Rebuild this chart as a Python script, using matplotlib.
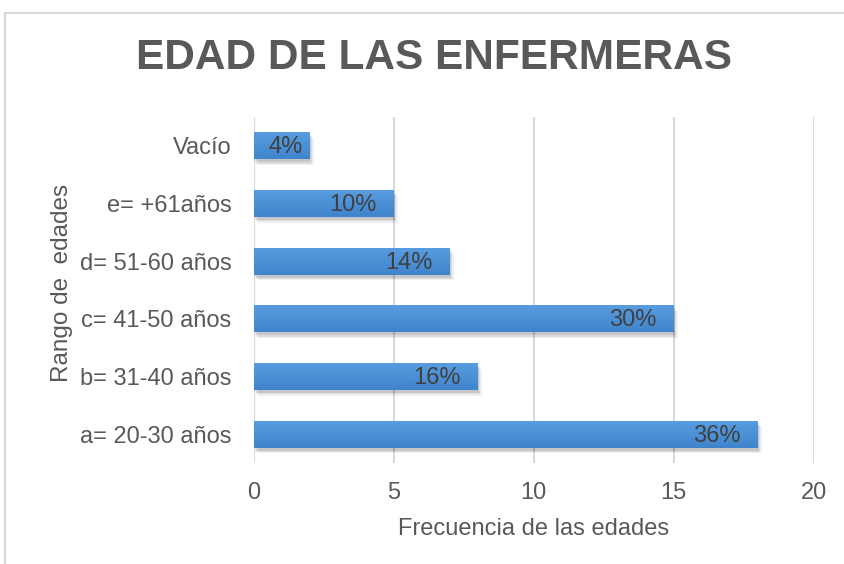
import numpy as np
import matplotlib.pyplot as plt
from matplotlib.patches import Rectangle
from matplotlib.colors import LinearSegmentedColormap
import matplotlib.transforms as mtransforms

plt.rcParams['font.family'] = ['Liberation Sans', 'DejaVu Sans']

# data
categorias = ["a= 20-30 años", "b= 31-40 años", "c= 41-50 años",
              "d= 51-60 años", "e= +61años", "Vacío"]
frecuencias = [18, 8, 15, 7, 5, 2]
porcentajes = ["36%", "16%", "30%", "14%", "10%", "4%"]
xticks = [0, 5, 10, 15, 20]

gris = '#595959'

fig = plt.figure(figsize=(8.44, 5.64), dpi=100)
ax = fig.add_axes([0.3005, 0.179, 0.6635, 0.6136])

# chart border like the spreadsheet frame
fig.patches.append(Rectangle((5 / 844, -0.1), 1.2, 1 - 13 / 564 + 0.1,
                             transform=fig.transFigure, fill=False,
                             edgecolor='#d9d9d9', linewidth=1.5))

y = np.arange(len(categorias))
alto = 0.47

# soft shadows under the bars
for yi, v in zip(y, frecuencias):
    for k, a in enumerate([0.10, 0.08, 0.06]):
        ax.add_patch(Rectangle((0, yi - alto / 2), v, alto, facecolor='black',
                               alpha=a, linewidth=0, zorder=2,
                               transform=mtransforms.offset_copy(
                                   ax.transData, fig=fig, x=1 + k, y=-2 - k,
                                   units='points')))

bars = ax.barh(y, frecuencias, height=alto, color='#4a8fd6', zorder=3)

# vertical gradient on bars
grad = np.linspace(0, 1, 50).reshape(-1, 1)
cmap = LinearSegmentedColormap.from_list('azul', ['#3f84cc', '#5a9de0'])
for b in bars:
    x0, y0 = b.get_x(), b.get_y()
    w, h = b.get_width(), b.get_height()
    im = ax.imshow(grad, cmap=cmap, aspect='auto', extent=[x0, x0 + w, y0, y0 + h],
                   origin='lower', zorder=4)
    im.set_clip_path(b)

for yi, v, p in zip(y, frecuencias, porcentajes):
    off = -12 if v > 3 else -5
    ax.annotate(p, (v, yi), xytext=(off, -1), textcoords='offset points',
                ha='right', va='center', fontsize=17, color='#404040', zorder=5)

ax.set_xlim(0, 20)
ax.set_ylim(-0.5, len(categorias) - 0.5)
ax.set_xticks(xticks)
ax.set_yticks(y)
ax.set_yticklabels(categorias)
ax.grid(axis='x', color='#d9d9d9', linewidth=1.5, zorder=0)
ax.set_axisbelow(True)
for s in ax.spines.values():
    s.set_visible(False)
ax.tick_params(axis='both', length=0, labelsize=17, colors=gris)
ax.tick_params(axis='y', pad=16)
ax.tick_params(axis='x', pad=14)

ax.set_xlabel("Frecuencia de las edades", fontsize=17, color=gris, labelpad=10)
ax.set_ylabel("Rango de  edades", fontsize=17.5, color=gris)
ax.yaxis.set_label_coords(-0.322, 0.52)

fig.text(0.514, 0.897, "EDAD DE LAS ENFERMERAS", ha='center', va='center',
         fontsize=30.5, fontweight='bold', color=gris)

fig.savefig('out.png', dpi=100)
